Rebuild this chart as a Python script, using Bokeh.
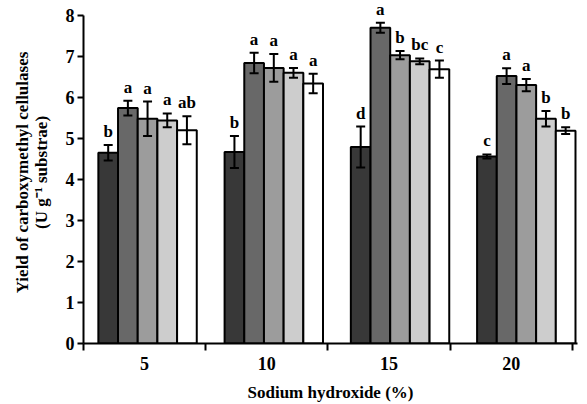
from bokeh.plotting import figure
from bokeh.models import ColumnDataSource, Whisker, FixedTicker, Range1d, TeeHead, LabelSet
from bokeh.embed import file_html
from bokeh.resources import INLINE

# ---- data ----
naoh_levels = ["5", "10", "15", "20"]
series_1 = [4.65, 4.67, 4.79, 4.56]
series_2 = [5.74, 6.84, 7.70, 6.52]
series_3 = [5.48, 6.72, 7.03, 6.30]
series_4 = [5.44, 6.60, 6.88, 5.48]
series_5 = [5.20, 6.34, 6.69, 5.19]
err_1 = [0.19, 0.39, 0.50, 0.05]
err_2 = [0.18, 0.25, 0.12, 0.19]
err_3 = [0.42, 0.34, 0.10, 0.15]
err_4 = [0.17, 0.12, 0.07, 0.19]
err_5 = [0.34, 0.24, 0.21, 0.08]
letters_1 = ["b", "b", "d", "c"]
letters_2 = ["a", "a", "a", "a"]
letters_3 = ["a", "a", "b", "a"]
letters_4 = ["a", "a", "bc", "b"]
letters_5 = ["ab", "a", "c", "b"]
y_ticks = [0, 1, 2, 3, 4, 5, 6, 7, 8]

series = [series_1, series_2, series_3, series_4, series_5]
errs = [err_1, err_2, err_3, err_4, err_5]
letters = [letters_1, letters_2, letters_3, letters_4, letters_5]
fills = ["#383838", "#686868", "#9c9c9c", "#cdcdcd", "#ffffff"]

# ---- layout constants ----
GROUP_START = 0.524
GROUP_STEP = 1.0327
BAR_W = 0.161
FONT = "Liberation Serif"
Y_TOP = 8.339  # a little headroom above 8 so the top letters are not clipped

xs, tops, lows, highs, cols, labs = [], [], [], [], [], []
for j, (s, e, l) in enumerate(zip(series, errs, letters)):
    for i in range(len(naoh_levels)):
        xs.append(GROUP_START + GROUP_STEP * i + (j - 2) * BAR_W)
        tops.append(s[i])
        lows.append(s[i] - e[i])
        highs.append(s[i] + e[i])
        cols.append(fills[j])
        labs.append(l[i])

src = ColumnDataSource(dict(x=xs, top=tops, lower=lows, upper=highs, color=cols, lab=labs))

p = figure(width=587, height=404, output_backend="svg", toolbar_location=None,
           x_range=Range1d(0, 4.041), y_range=Range1d(0, Y_TOP),
           min_border_left=83, min_border_right=10, min_border_top=1, min_border_bottom=59)
p.outline_line_color = None
p.xgrid.visible = False
p.ygrid.visible = False
p.background_fill_color = "white"

p.vbar(x="x", top="top", bottom=0, width=BAR_W, fill_color="color", line_color="black",
       line_width=2, source=src)

w = Whisker(base="x", lower="lower", upper="upper", source=src, line_color="black", line_width=2,
            level="overlay",
            upper_head=TeeHead(size=9, line_width=2, line_color="black"),
            lower_head=TeeHead(size=9, line_width=2, line_color="black"))
p.add_layout(w)

letters_set = LabelSet(x="x", y="upper", text="lab", source=src, text_font=FONT,
                       text_font_style="bold", text_font_size="17px", text_align="center",
                       text_baseline="alphabetic", y_offset=8, text_color="black",
                       level="overlay")
p.add_layout(letters_set)

# x axis
p.xaxis.ticker = FixedTicker(ticks=[0.5, 1.5, 2.5, 3.5], minor_ticks=[0, 1, 2, 3, 4])
p.xaxis.major_label_overrides = {0.5 + i: lab for i, lab in enumerate(naoh_levels)}
p.xaxis.major_tick_out = 0
p.xaxis.major_tick_in = 0
p.xaxis.minor_tick_out = 7
p.xaxis.minor_tick_in = 0
p.xaxis.minor_tick_line_width = 2
p.xaxis.minor_tick_line_color = "black"
p.xaxis.axis_label = "Sodium hydroxide (%)"

# y axis
p.yaxis.ticker = FixedTicker(ticks=y_ticks)
p.yaxis.bounds = (0, 8)
p.yaxis.major_tick_out = 6
p.yaxis.major_tick_in = 0
p.yaxis.minor_tick_out = 0
p.yaxis.minor_tick_in = 0
p.yaxis.axis_label = "Yield of carboxymethyl cellulases\n(U g\u207b\u00b9 substrae)"
p.yaxis.axis_label_text_line_height = 1.0

for ax in (p.xaxis, p.yaxis):
    ax.axis_line_width = 2
    ax.axis_line_color = "black"
    ax.major_tick_line_width = 2
    ax.major_tick_line_color = "black"
    ax.major_label_text_font = FONT
    ax.major_label_text_font_style = "bold"
    ax.major_label_text_font_size = "18px"
    ax.major_label_text_color = "black"
    ax.axis_label_text_font = FONT
    ax.axis_label_text_font_style = "bold"
    ax.axis_label_text_font_size = "17px"
    ax.axis_label_text_color = "black"

p.xaxis.major_label_standoff = 6
p.xaxis.axis_label_standoff = 10
p.yaxis.major_label_standoff = 3
p.yaxis.axis_label_standoff = 12

open("out.html", "w").write(file_html(p, INLINE))
